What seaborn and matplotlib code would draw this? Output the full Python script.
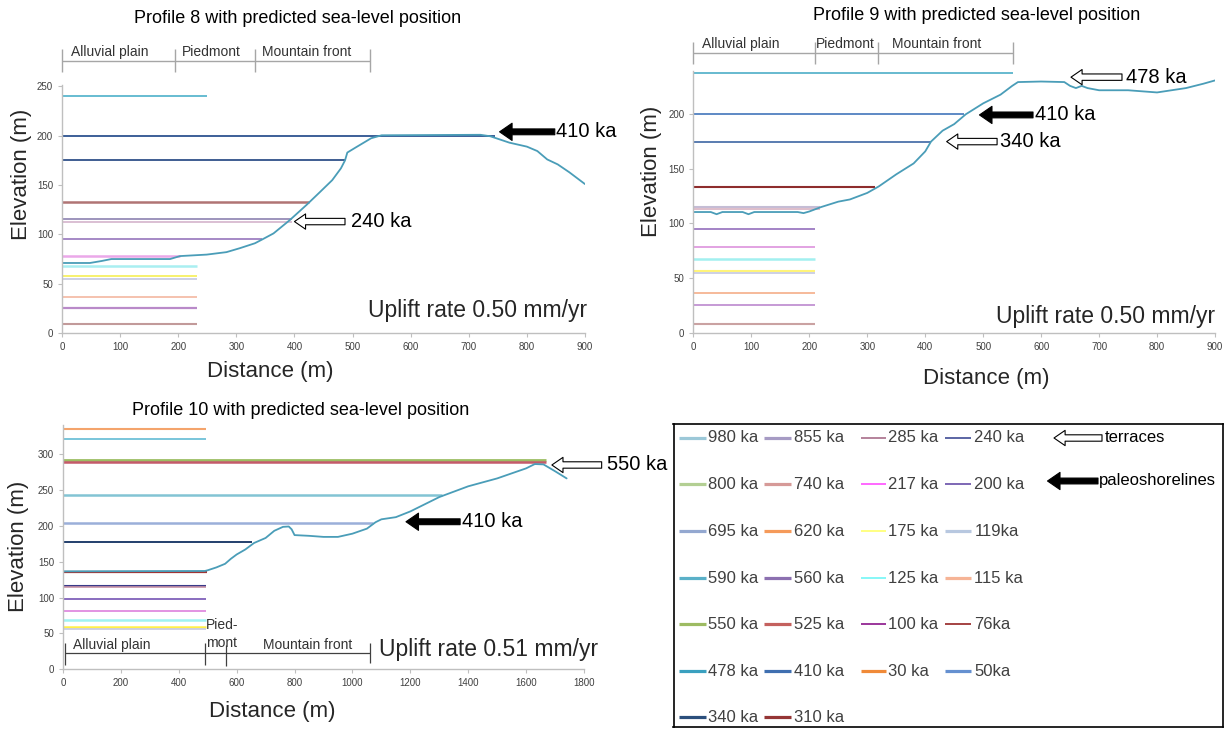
import matplotlib
matplotlib.use('Agg')
import matplotlib.pyplot as plt
import seaborn as sns

# ---------------- data ----------------
# Profile 8 (uplift 0.50 mm/yr)
p8_x = [0, 48, 68, 85, 186, 203, 249, 283, 306, 332, 345, 364, 392, 421, 444, 465,
        480, 487, 491, 505, 532, 550, 720, 737, 770, 800, 818, 835, 853, 873, 900]
p8_y = [71, 71, 73, 75, 75, 78, 79.5, 82, 86, 91, 95, 101, 114.5, 130, 143, 155,
        167, 175, 183, 188, 197.5, 200.5, 201, 199.5, 193, 189, 184.5, 176, 171, 163, 151]
p8_levels = [240, 200, 175, 133, 115.5, 112.6, 95, 78.5, 67.5, 57.8, 55, 37, 25.5, 8.7]
p8_ends = [250, 745, 487, 425, 395, 395, 344, 203, 232, 232, 232, 232, 232, 232]
p8_zone_edges = [0, 195, 332, 530]

# Profile 9 (uplift 0.50 mm/yr)
p9_x = [0, 30, 40, 50, 85, 95, 105, 180, 190, 200, 210, 220, 250, 270, 300, 320, 350,
        380, 400, 410, 430, 450, 470, 500, 530, 550, 560, 600, 640, 650, 660, 670, 680,
        700, 750, 800, 850, 880, 900]
p9_y = [110.5, 110.5, 108.5, 110.5, 110.5, 108.5, 110.5, 110.5, 109.5, 111, 113, 115,
        120, 122, 128, 134, 145, 155, 166, 175, 185, 191, 200, 210, 218, 226, 229.5,
        230, 229.5, 226, 224, 226, 224, 222, 222, 220, 224, 228, 231]
p9_levels = [238, 200, 175, 133, 115.4, 113.3, 95, 78.2, 67.5, 56.8, 54.4, 36, 25, 8]
p9_ends = [552, 467, 410, 313, 218, 218, 210, 210, 210, 210, 210, 210, 210, 210]
p9_zone_edges = [0, 210, 318, 552]

# Profile 10 (uplift 0.51 mm/yr)
p10_x = [0, 490, 500, 530, 560, 580, 600, 630, 660, 700, 730, 760, 780, 790, 800, 850,
         900, 950, 1000, 1050, 1080, 1100, 1150, 1200, 1300, 1400, 1500, 1600, 1630,
         1660, 1700, 1740]
p10_y = [136.5, 137, 138, 142, 147, 154, 160, 167, 176, 183, 193, 198.5, 199, 195, 187,
         186, 184.5, 184.5, 189, 196, 205, 209, 212, 220, 240, 255, 266, 280, 286,
         285.5, 276, 266]
p10_levels = [335.3, 320.5, 291, 288.5, 243, 204.4, 178, 136, 116.6, 115, 97.5, 81.3,
              68.7, 59.5, 56.2]
p10_ends = [495, 495, 1669, 1669, 1308, 1070, 654, 497, 495, 495, 495, 495, 495, 495, 495]
p10_zone_edges = [7, 490, 563, 1061]

zone_names = ['Alluvial plain', 'Piedmont', 'Mountain front']

legend_labels = ['980 ka', '800 ka', '695 ka', '590 ka', '550 ka', '478 ka', '340 ka',
                 '855 ka', '740 ka', '620 ka', '560 ka', '525 ka', '410 ka', '310 ka',
                 '285 ka', '217 ka', '175 ka', '125 ka', '100 ka', '30 ka',
                 '240 ka', '200 ka', '119ka', '115 ka', '76ka', '50ka']
legend_col_sizes = [7, 7, 6, 6]

# ---------------- styles ----------------
PROFILE = '#4A9DB8'
p8_colors = ['#5BB6CE', '#3C5F98', '#3E5D92', '#B07474', '#8C82B0', '#D4B4CC', '#9E80C2',
             '#EBA8E9', '#A9EFF1', '#F7F062', '#C9CDE2', '#F5BDA8', '#B98AC9', '#C29A9A']
p8_widths = [1.3, 1.4, 1.4, 1.8, 1.2, 1.2, 1.3, 1.8, 1.8, 1.3, 1.3, 1.3, 1.6, 1.5]
p9_colors = ['#5AB4CC', '#5080C0', '#4C72AA', '#8E2C2C', '#C5BDD5', '#D8B2C2', '#9C7AC2',
             '#E2A2E2', '#A2F0F0', '#FFF47A', '#C9CDE2', '#F6BA9A', '#C292D2', '#CAA2A2']
p9_widths = [1.3, 1.3, 1.3, 1.5, 1.5, 1.2, 1.3, 1.4, 1.8, 1.5, 1.3, 1.4, 1.3, 1.5]
p10_colors = ['#F4A46C', '#6EC0D8', '#9CBD62', '#C45A6A', '#82C4D4', '#9BAFD9', '#233F6C',
              '#A03434', '#3A3A8A', '#C894A8', '#7654B4', '#E294E2', '#9EF2F2', '#FFF04A',
              '#C9CDE2']
p10_widths = [1.5, 1.3, 2.0, 1.8, 1.8, 1.8, 1.4, 1.6, 1.5, 1.2, 1.2, 1.4, 1.8, 1.8, 1.3]

legend_colors = ['#9CC8D8', '#B3CF93', '#94A8D0', '#5AB0C8', '#9DBB62', '#3AA0BF', '#2B4F7C',
                 '#A69BC4', '#D69A98', '#F59A5A', '#8C70B0', '#C4615E', '#3F6FB0', '#953535',
                 '#A06080', '#FF40FF', '#FFFF60', '#66F5F5', '#800080', '#F08A38',
                 '#2F3C8C', '#5A3FA0', '#B8C8E0', '#F6B496', '#8B1010', '#6590D0']
legend_thick = [True] * 14 + [False, False, False, False, False, True,
                              False, False, True, True, False, True]

TXT = '#262626'

sns.set_theme(style='white')
plt.rcParams['font.family'] = ['Liberation Sans', 'DejaVu Sans']

fig = plt.figure(figsize=(12.25, 7.29), dpi=100)
W, H = 1225.0, 729.0


def style_axes(ax, xlim, ylim, xticks, yticks):
    ax.set_xlim(xlim)
    ax.set_ylim(ylim)
    ax.set_xticks(xticks)
    ax.set_yticks(yticks)
    sns.despine(ax=ax)
    for s in ['left', 'bottom']:
        ax.spines[s].set_color('#BFBFBF')
        ax.spines[s].set_linewidth(1)
    ax.tick_params(bottom=True, left=True, direction='out', length=3, width=0.8,
                   color='#BFBFBF', labelsize=7, labelcolor='#404040', pad=3.5)
    ax.set_xlabel('')
    ax.set_ylabel('')


def block_arrow(ax, tip, tail, black):
    if black:
        st = 'simple,head_length=9,head_width=12.4,tail_width=4.2'
        fc = 'black'
    else:
        st = 'simple,head_length=8,head_width=11,tail_width=4.6'
        fc = 'white'
    ax.annotate('', xy=tip, xytext=tail, annotation_clip=False,
                arrowprops=dict(arrowstyle=st, fc=fc, ec='black', lw=0.8,
                                shrinkA=0, shrinkB=0, mutation_scale=1))


def draw_levels(ax, levels, ends, colors, widths):
    for lev, end, c, w in zip(levels, ends, colors, widths):
        ax.hlines(lev, 0, end, colors=c, linewidth=w)


def draw_zones(ax, edges, y_line, y0, y1, color, lw):
    ax.hlines(y_line, edges[0], edges[-1], colors=color, linewidth=lw, clip_on=False)
    ax.vlines(edges, y0, y1, colors=color, linewidth=lw, clip_on=False)


def add_axes_px(left, top, right, bottom):
    return fig.add_axes([left / W, 1 - bottom / H, (right - left) / W, (bottom - top) / H])


# ---------------- Profile 8 ----------------
ax1 = add_axes_px(62, 84.5, 585, 333)
draw_levels(ax1, p8_levels, p8_ends, p8_colors, p8_widths)
sns.lineplot(x=p8_x, y=p8_y, ax=ax1, color=PROFILE, lw=1.3, sort=False, estimator=None)
style_axes(ax1, (0, 900), (0, 252), range(0, 901, 100), range(0, 251, 50))
draw_zones(ax1, p8_zone_edges, 276, 265, 288, '#A6A6A6', 1.0)
for name, xl in zip(zone_names, [16, 206, 345]):
    ax1.text(xl, 285, name, fontsize=10, color='#333333', ha='left', va='center')
block_arrow(ax1, (753, 204), (848, 204), True)
ax1.text(850, 204, '410 ka', fontsize=14.5, color='black', ha='left', va='center')
block_arrow(ax1, (400, 113), (487, 113), False)
ax1.text(498, 113, '240 ka', fontsize=14.5, color='black', ha='left', va='center')
ax1.text(903, 22.6, 'Uplift rate 0.50 mm/yr', fontsize=16.5, color=TXT, ha='right', va='center')
ax1.text(0.398, -0.156, 'Distance (m)', transform=ax1.transAxes, fontsize=16, color=TXT,
         ha='center', va='center')
ax1.text(-0.077, 0.64, 'Elevation (m)', transform=ax1.transAxes, fontsize=16, color=TXT,
         ha='center', va='center', rotation=90)
fig.text(298 / W, 1 - 18.3 / H, 'Profile 8 with predicted sea-level position', fontsize=13,
         color='black', ha='center', va='center')

# ---------------- Profile 9 ----------------
ax2 = add_axes_px(693.4, 70.6, 1215, 332.7)
draw_levels(ax2, p9_levels, p9_ends, p9_colors, p9_widths)
sns.lineplot(x=p9_x, y=p9_y, ax=ax2, color=PROFILE, lw=1.3, sort=False, estimator=None)
style_axes(ax2, (0, 900), (0, 240), range(0, 901, 100), range(0, 201, 50))
draw_zones(ax2, p9_zone_edges, 256, 246, 266.5, '#A6A6A6', 1.0)
for name, xl in zip(zone_names, [15, 212, 343]):
    ax2.text(xl, 264, name, fontsize=10, color='#333333', ha='left', va='center')
block_arrow(ax2, (651.5, 234), (739.5, 234), False)
ax2.text(746, 234, '478 ka', fontsize=14.5, color='black', ha='left', va='center')
block_arrow(ax2, (493.6, 199.4), (586, 199.4), True)
ax2.text(589, 199.4, '410 ka', fontsize=14.5, color='black', ha='left', va='center')
block_arrow(ax2, (437, 175), (524, 175), False)
ax2.text(529, 175, '340 ka', fontsize=14.5, color='black', ha='left', va='center')
ax2.text(900, 14.7, 'Uplift rate 0.50 mm/yr', fontsize=16.5, color=TXT, ha='right', va='center')
ax2.text(0.561, -0.173, 'Distance (m)', transform=ax2.transAxes, fontsize=16, color=TXT,
         ha='center', va='center')
ax2.text(-0.081, 0.614, 'Elevation (m)', transform=ax2.transAxes, fontsize=16, color=TXT,
         ha='center', va='center', rotation=90)
fig.text(977 / W, 1 - 16 / H, 'Profile 9 with predicted sea-level position', fontsize=13,
         color='black', ha='center', va='center')

# ---------------- Profile 10 ----------------
ax3 = add_axes_px(63, 425.3, 584, 669.3)
draw_levels(ax3, p10_levels, p10_ends, p10_colors, p10_widths)
sns.lineplot(x=p10_x, y=p10_y, ax=ax3, color=PROFILE, lw=1.3, sort=False, estimator=None)
style_axes(ax3, (0, 1800), (0, 340), range(0, 1801, 200), range(0, 301, 50))
ax3.hlines(22.3, p10_zone_edges[0], p10_zone_edges[-1], colors='#404040', linewidth=0.9)
ax3.vlines(p10_zone_edges, [6, 6, 5, 8.8], [36, 36.7, 33.8, 37], colors='#404040',
           linewidth=0.9)
ax3.text(36, 34, 'Alluvial plain', fontsize=10, color='#333333', ha='left', va='center')
ax3.text(494, 61.7, 'Pied-', fontsize=10, color='#333333', ha='left', va='center')
ax3.text(494, 37, 'mont', fontsize=10, color='#333333', ha='left', va='center')
ax3.text(692, 34, 'Mountain front', fontsize=10, color='#333333', ha='left', va='center')
block_arrow(ax3, (1689, 284.7), (1861, 284.7), False)
ax3.text(1879, 284.7, '550 ka', fontsize=14.5, color='black', ha='left', va='center')
block_arrow(ax3, (1185, 205.6), (1372, 205.6), True)
ax3.text(1379, 205.6, '410 ka', fontsize=14.5, color='black', ha='left', va='center')
ax3.text(1091, 26.9, 'Uplift rate 0.51 mm/yr', fontsize=16.5, color=TXT, ha='left', va='center')
ax3.text(0.402, -0.174, 'Distance (m)', transform=ax3.transAxes, fontsize=16, color=TXT,
         ha='center', va='center')
ax3.text(-0.0845, 0.502, 'Elevation (m)', transform=ax3.transAxes, fontsize=16, color=TXT,
         ha='center', va='center', rotation=90)
fig.text(301 / W, 1 - 410.7 / H, 'Profile 10 with predicted sea-level position', fontsize=13,
         color='black', ha='center', va='center')

# ---------------- legend box ----------------
lax = add_axes_px(673.5, 424, 1223, 726.5)
lax.set_xlim(673.5, 1223)
lax.set_ylim(726.5, 424)
lax.set_xticks([])
lax.set_yticks([])
for s in lax.spines.values():
    s.set_visible(True)
    s.set_color('black')
    s.set_linewidth(1.2)

col_line_x = [(679.4, 706), (764.1, 791.1), (861.4, 886.2), (945.4, 970.6)]
col_text_x = [707.9, 793.7, 888.4, 974.3]
row_y = [437.7, 484.3, 531, 578.3, 624.3, 671, 717]

k = 0
for ci, n in enumerate(legend_col_sizes):
    for ri in range(n):
        x0, x1 = col_line_x[ci]
        y = row_y[ri]
        lax.plot([x0, x1], [y, y], color=legend_colors[k],
                 lw=2.3 if legend_thick[k] else 1.1, solid_capstyle='butt')
        lax.text(col_text_x[ci], y, legend_labels[k], fontsize=12, color='#404040',
                 ha='left', va='center')
        k += 1

block_arrow(lax, (1054, 438), (1102, 438), False)
lax.text(1105, 438, 'terraces', fontsize=12, color='black', ha='left', va='center')
block_arrow(lax, (1047.5, 481), (1098, 481), True)
lax.text(1099, 481, 'paleoshorelines', fontsize=12, color='black', ha='left', va='center')

fig.savefig('out.png', dpi=100)
